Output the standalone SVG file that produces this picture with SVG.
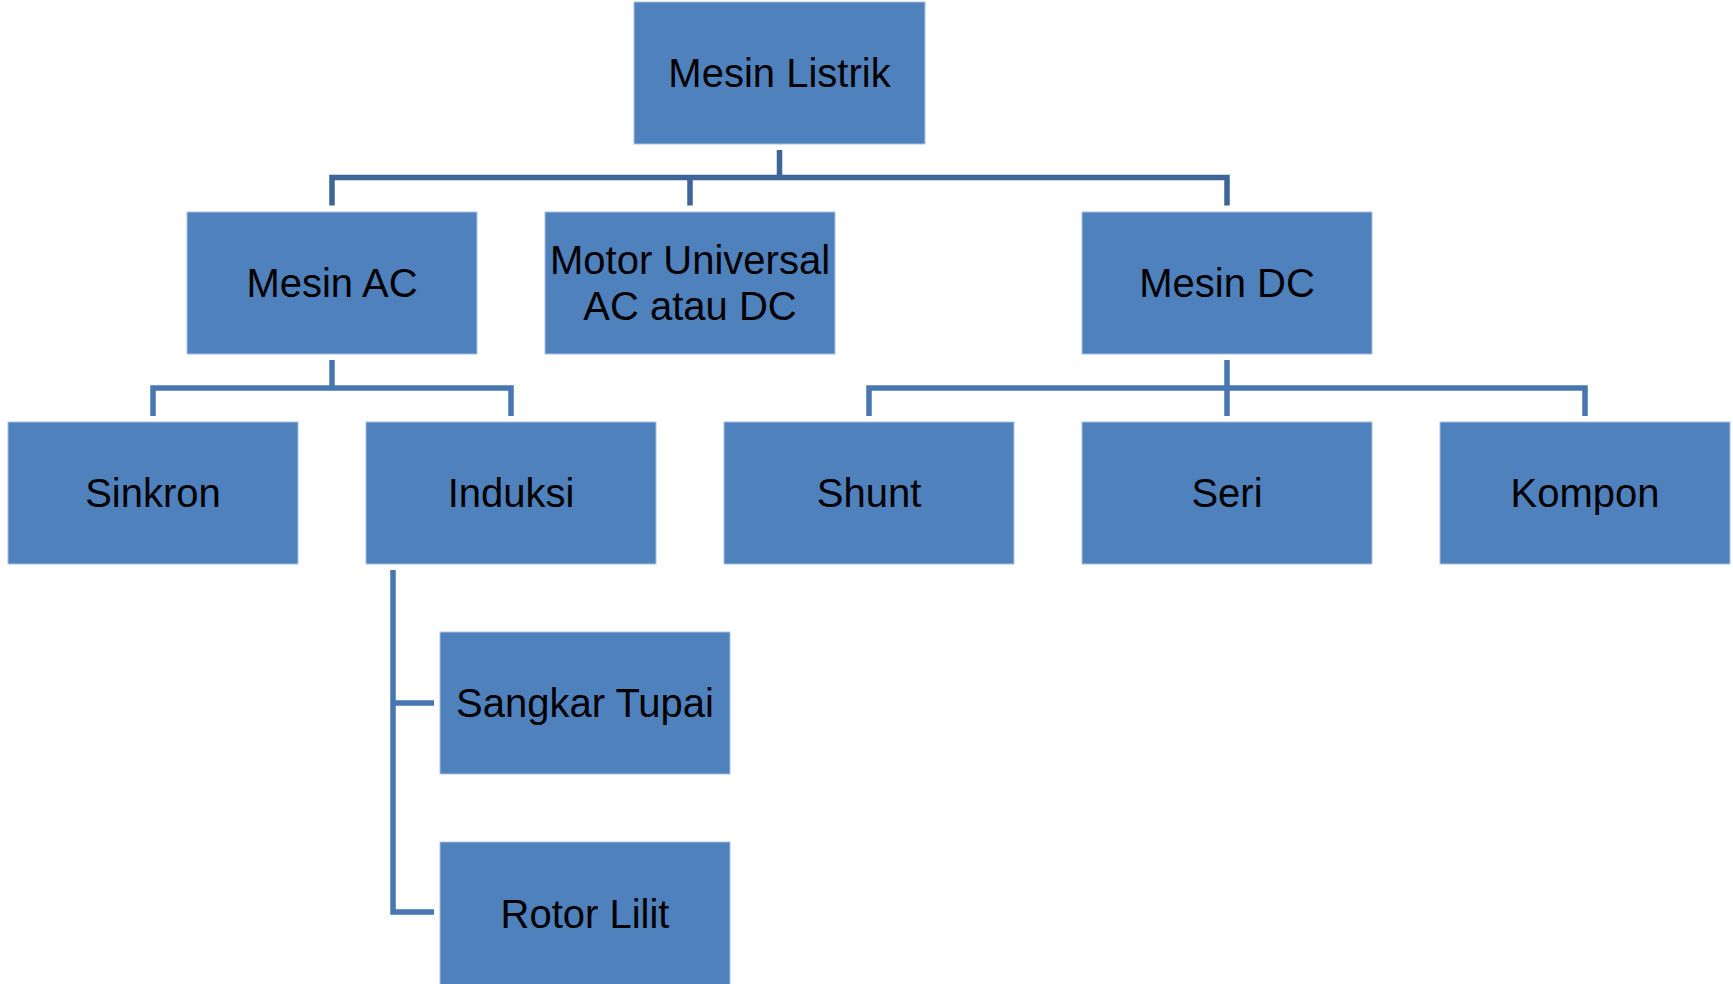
<svg xmlns="http://www.w3.org/2000/svg" width="1733" height="984" viewBox="0 0 1733 984">
<style>
.box{fill:#4F81BD;stroke:#A9C0DF;stroke-width:1}
.lbl{font-family:"Liberation Sans",Arial,sans-serif;font-size:40px;fill:#000;text-anchor:middle}
.c1{fill:none;stroke:#3E6597;stroke-width:5.5}
.c2{fill:none;stroke:#4876B0;stroke-width:5.5}
</style>
<rect width="1733" height="984" fill="#fff"/>
<g id="connectors">
<path class="c1" d="M779.5 150V177.5M332 205.5V177.5H1227V205.5M690 177.5V205.5"/>
<path class="c2" d="M332 360V388M153 416V388H511V416"/>
<path class="c2" d="M1227 360V416M869 416V388H1585V416"/>
<path class="c2" d="M393 570V912H434M393 703H434"/>
</g>
<g id="mesin-listrik"><rect class="box" x="634" y="2" width="291" height="142"/><text class="lbl" x="779.5" y="87">Mesin Listrik</text></g>
<g id="mesin-ac"><rect class="box" x="187" y="212" width="290" height="142"/><text class="lbl" x="332" y="297">Mesin AC</text></g>
<g id="motor-universal"><rect class="box" x="545" y="212" width="290" height="142"/><text class="lbl" x="690" y="274">Motor Universal</text><text class="lbl" x="690" y="320">AC atau DC</text></g>
<g id="mesin-dc"><rect class="box" x="1082" y="212" width="290" height="142"/><text class="lbl" x="1227" y="297">Mesin DC</text></g>
<g id="sinkron"><rect class="box" x="8" y="422" width="290" height="142"/><text class="lbl" x="153" y="507">Sinkron</text></g>
<g id="induksi"><rect class="box" x="366" y="422" width="290" height="142"/><text class="lbl" x="511" y="507">Induksi</text></g>
<g id="shunt"><rect class="box" x="724" y="422" width="290" height="142"/><text class="lbl" x="869" y="507">Shunt</text></g>
<g id="seri"><rect class="box" x="1082" y="422" width="290" height="142"/><text class="lbl" x="1227" y="507">Seri</text></g>
<g id="kompon"><rect class="box" x="1440" y="422" width="290" height="142"/><text class="lbl" x="1585" y="507">Kompon</text></g>
<g id="sangkar-tupai"><rect class="box" x="440" y="632" width="290" height="142"/><text class="lbl" x="585" y="717">Sangkar Tupai</text></g>
<g id="rotor-lilit"><rect class="box" x="440" y="842" width="290" height="144"/><text class="lbl" x="585" y="928">Rotor Lilit</text></g>
</svg>
